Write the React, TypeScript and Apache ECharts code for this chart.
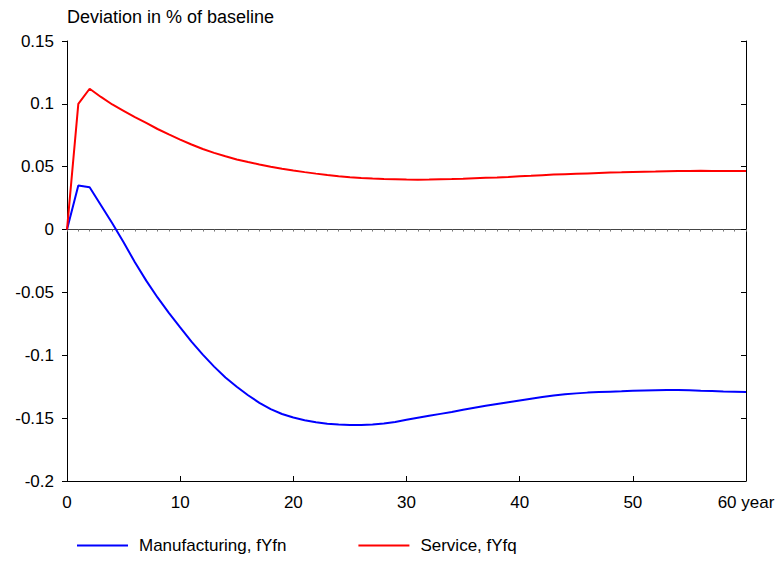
import React, { useEffect, useRef } from "react";
import * as echarts from "echarts";

const years: number[] = Array.from({ length: 61 }, (_, i) => i);

const manufacturing: number[] = [
  0, 0.035, 0.0336, 0.0193, 0.005, -0.0101, -0.026, -0.0406, -0.054, -0.0662,
  -0.0778, -0.0892, -0.0995, -0.109, -0.1176, -0.125, -0.1318, -0.1378, -0.1428, -0.1467,
  -0.1495, -0.1516, -0.1533, -0.1544, -0.1551, -0.1554, -0.1554, -0.155, -0.1543, -0.153,
  -0.1513, -0.1497, -0.1481, -0.1466, -0.1451, -0.1434, -0.1418, -0.1402, -0.1388, -0.1374,
  -0.136, -0.1346, -0.1332, -0.1319, -0.131, -0.1303, -0.1297, -0.1293, -0.129, -0.1287,
  -0.1283, -0.128, -0.1278, -0.1276, -0.1276, -0.1278, -0.1282, -0.1285, -0.1288, -0.129,
  -0.1292,
];

const service: number[] = [
  0, 0.1, 0.112, 0.1055, 0.0995, 0.0945, 0.0895, 0.0848, 0.08, 0.0757,
  0.0716, 0.0677, 0.0641, 0.061, 0.0583, 0.0558, 0.0537, 0.0518, 0.05, 0.0484,
  0.047, 0.0457, 0.0445, 0.0434, 0.0425, 0.0417, 0.0411, 0.0406, 0.0402, 0.04,
  0.0398, 0.0397, 0.0398, 0.04, 0.0402, 0.0405, 0.0409, 0.0412, 0.0415, 0.0419,
  0.0424, 0.0428, 0.0433, 0.0438, 0.0441, 0.0444, 0.0447, 0.045, 0.0453, 0.0455,
  0.0458, 0.046, 0.0461, 0.0463, 0.0465, 0.0466, 0.0468, 0.0466, 0.0465, 0.0466,
  0.0466,
];

const seriesNames: string[] = ["Manufacturing, fYfn", "Service, fYfq"];
const seriesColors: string[] = ["#0000ff", "#ff0000"];
const yAxisTitle = "Deviation in % of baseline";
const xUnit = "year";

const FONT = "'Liberation Sans', Arial, Helvetica, sans-serif";
const FS = 17;

export default function App() {
  const ref = useRef<HTMLDivElement>(null);

  useEffect(() => {
    if (!ref.current) return;
    const chart = echarts.init(ref.current, undefined, { renderer: "svg" });
    const pair = (vals: number[]) => years.map((x, i) => [x, vals[i]]);
    chart.setOption({
      animation: false,
      textStyle: { fontFamily: FONT, color: "#000" },
      grid: { left: 67, right: 33, top: 41, bottom: 93, containLabel: false },
      graphic: [
        {
          type: "text",
          left: 67,
          top: 8,
          style: { text: yAxisTitle, font: `18px ${FONT}`, fill: "#000" },
        },
      ],
      legend: {
        left: 72,
        top: 532,
        icon: "rect",
        itemWidth: 51,
        itemHeight: 2,
        itemGap: 72,
        textStyle: { fontSize: FS, color: "#000", fontFamily: FONT, padding: [0, 0, 0, 6] },
        data: seriesNames,
      },
      xAxis: [
        {
          type: "value",
          min: 0,
          max: 60,
          interval: 10,
          position: "bottom",
          axisLine: { onZero: false, lineStyle: { color: "#000", width: 1 } },
          axisTick: { inside: true, length: 5, lineStyle: { color: "#000" } },
          axisLabel: {
            fontSize: FS,
            color: "#000",
            margin: 13,
            formatter: (v: number) => (v === 60 ? `${v} ${xUnit}` : `${v}`),
          },
          splitLine: { show: false },
        },
        {
          type: "value",
          min: 0,
          max: 60,
          interval: 1,
          axisLine: { onZero: true, lineStyle: { color: "#444", width: 1 } },
          axisTick: { show: true, length: 2, inside: true, lineStyle: { color: "#777" } },
          axisLabel: { show: false },
          splitLine: { show: false },
        },
      ],
      yAxis: [
        {
          type: "value",
          min: -0.2,
          max: 0.15,
          interval: 0.05,
          position: "left",
          axisLine: { show: true, onZero: false, lineStyle: { color: "#000", width: 1 } },
          axisTick: { show: true, inside: false, length: 5, lineStyle: { color: "#000" } },
          axisLabel: {
            fontSize: FS,
            color: "#000",
            margin: 13,
            formatter: (v: number) => `${parseFloat(v.toFixed(2))}`,
          },
          splitLine: { show: false },
        },
        {
          type: "value",
          min: -0.2,
          max: 0.15,
          interval: 0.05,
          position: "right",
          axisLine: { show: true, onZero: false, lineStyle: { color: "#000", width: 1 } },
          axisTick: { show: true, inside: true, length: 5, lineStyle: { color: "#000" } },
          axisLabel: { show: false },
          splitLine: { show: false },
        },
      ],
      series: [
        {
          name: seriesNames[0],
          type: "line",
          data: pair(manufacturing),
          showSymbol: false,
          symbol: "none",
          lineStyle: { color: seriesColors[0], width: 2 },
          itemStyle: { color: seriesColors[0] },
          z: 3,
        },
        {
          name: seriesNames[1],
          type: "line",
          data: pair(service),
          showSymbol: false,
          symbol: "none",
          lineStyle: { color: seriesColors[1], width: 2 },
          itemStyle: { color: seriesColors[1] },
          z: 3,
        },
      ],
    });
    return () => chart.dispose();
  }, []);

  return <div ref={ref} style={{ width: 779, height: 574, position: "absolute", left: 0, top: 0 }} />;
}
